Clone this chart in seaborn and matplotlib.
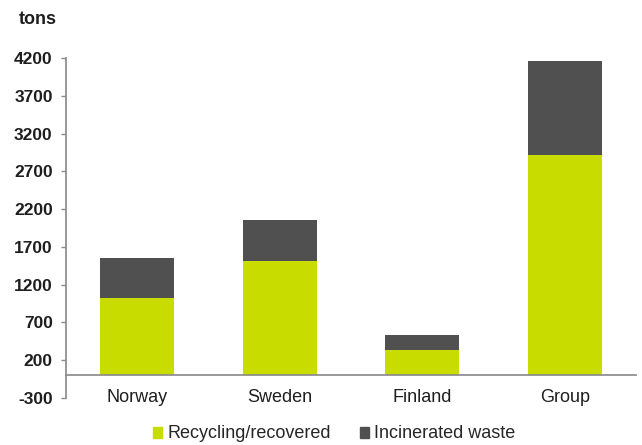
import matplotlib
matplotlib.use("Agg")
import matplotlib.pyplot as plt
import seaborn as sns
import pandas as pd
from matplotlib.patches import Patch

categories = ["Norway", "Sweden", "Finland", "Group"]
recycled = [1030, 1515, 340, 2915]
incinerated = [525, 545, 190, 1240]
yticks = [-300, 200, 700, 1200, 1700, 2200, 2700, 3200, 3700, 4200]

green = "#C8DC00"
dark = "#505050"
axis_gray = "#8C8C8C"
text_color = "#1E1E1E"

sns.set_theme(style="white")
plt.rcParams["font.family"] = ["Liberation Sans", "DejaVu Sans"]

totals = [r + i for r, i in zip(recycled, incinerated)]
df = pd.DataFrame({"region": categories, "recycled": recycled, "total": totals})

fig = plt.figure(figsize=(6.42, 4.45), dpi=100)
ax = fig.add_axes([66 / 642, (445 - 398) / 445, (636 - 66) / 642, 340 / 445])

sns.barplot(data=df, x="region", y="total", color=dark, saturation=1,
            width=0.52, ax=ax, linewidth=0)
sns.barplot(data=df, x="region", y="recycled", color=green, saturation=1,
            width=0.52, ax=ax, linewidth=0)

ax.set_xlim(-0.5, 3.5)
ax.set_ylim(-300, 4200)
ax.set_yticks(yticks)
ax.set_yticklabels([str(v) for v in yticks], fontsize=12.5, fontweight="bold",
                   color=text_color)
ax.set_xlabel("")
ax.set_ylabel("")

for s in ["top", "right"]:
    ax.spines[s].set_visible(False)
ax.spines["left"].set_color(axis_gray)
ax.spines["bottom"].set_color(axis_gray)
ax.spines["bottom"].set_position(("data", 0))

# category axis at zero: boundary ticks major, labels on minor
ax.set_xticks([-0.5, 0.5, 1.5, 2.5, 3.5])
ax.set_xticklabels([])
ax.set_xticks([0, 1, 2, 3], minor=True)
ax.set_xticklabels(categories, minor=True, fontsize=13, color=text_color)
ax.tick_params(axis="x", which="major", direction="out", length=4,
               color=axis_gray, width=1)
ax.tick_params(axis="x", which="minor", length=0, pad=9.5)
ax.tick_params(axis="y", direction="out", length=3.6, color=axis_gray, width=1,
               left=True, pad=6)

fig.text(19 / 642, 1 - 20 / 445, "tons", fontsize=13, fontweight="bold",
         color=text_color, va="center", ha="left")

handles = [Patch(color=green, label="Recycling/recovered"),
           Patch(color=dark, label="Incinerated waste")]
fig.legend(handles=handles, loc="center", bbox_to_anchor=(334 / 642, 1 - 434 / 445),
           ncol=2, frameon=False, fontsize=13, handlelength=0.5,
           handleheight=0.55, handletextpad=0.3, columnspacing=1.6,
           borderpad=0)

fig.savefig("out.png", dpi=100)
